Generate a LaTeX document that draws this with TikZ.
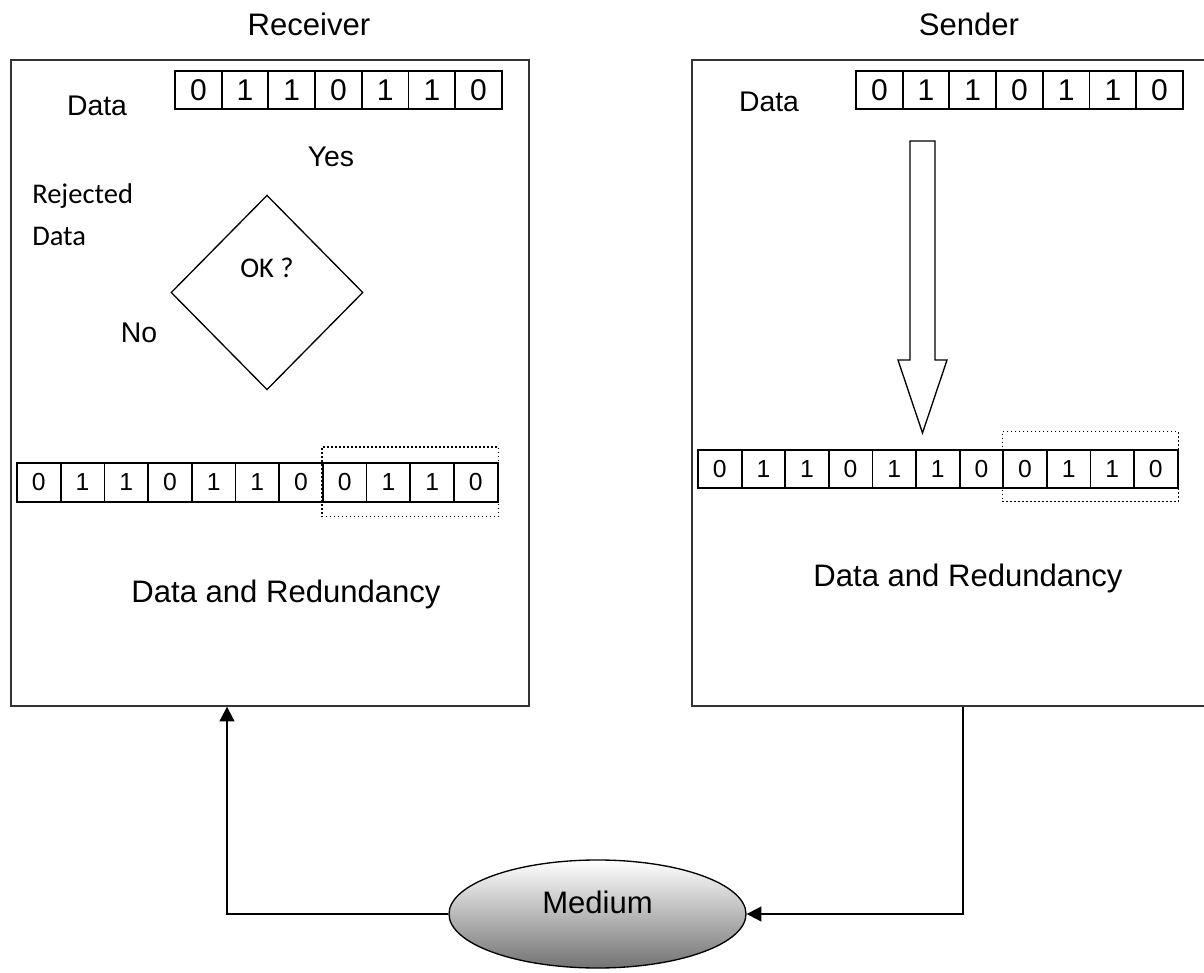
\documentclass[tikz,border=0pt]{standalone}
\usepackage{fontspec}
\setmainfont{Liberation Sans}
\newfontfamily\carlito{Carlito}
\usetikzlibrary{positioning,shapes.geometric,fit,arrows.meta}

\begin{document}
\begin{tikzpicture}[
  x=0.75pt, y=-0.75pt,
  frame/.style={draw=black!80, line width=1pt, minimum height=484.5pt},
  bitcell/.style={draw, line width=1.4pt, inner sep=0pt, minimum width=35pt, minimum height=28.5pt, font=\fontsize{22.5}{24}\selectfont},
  longcell/.style={draw, line width=1.3pt, inner sep=0pt, minimum width=32.75pt, minimum height=29pt, font=\fontsize{18.5}{20}\selectfont},
  redund/.style={draw, dotted, line width=1pt, inner xsep=0pt, inner ysep=11pt},
  big/.style={font=\fontsize{23.3}{26}\selectfont, inner sep=0pt, anchor=base},
  mid/.style={font=\fontsize{21.3}{24}\selectfont, inner sep=0pt, anchor=base},
  cal/.style={font=\carlito\fontsize{21.4}{24}\selectfont, inner sep=0pt, anchor=base},
  decision/.style={diamond, draw, line width=1pt, inner sep=0pt, minimum width=144pt, minimum height=146pt},
  medium/.style={ellipse, draw, line width=1pt, top color=white, bottom color=black!55, minimum width=222.75pt, minimum height=81pt, inner sep=0pt},
  arr/.style={-{Triangle[length=11pt,width=11pt]}, line width=1.4pt},
]
\useasboundingbox (0,0) rectangle (1204,973);

% Frames and titles
\node[frame, minimum width=388.5pt] (receiver) at (270,383) {};
\node[frame, minimum width=392.25pt] (sender) at (953.5,383) {};
\node[big] (rtitle) at (309,36) {Receiver};
\node[big] (stitle) at (969,36) {Sender};

% Receiver side
\node[mid] (rdatalbl) at (97,116) {Data};
\foreach \b [count=\i] in {0,1,1,0,1,1,0}
  \node[bitcell] (rbit\i) at ({175+46.7*(\i-0.5)},90) {\b};
\node[mid] (yes) at (331,167) {Yes};
\node[cal, anchor=base west] (rej1) at (32,204) {Rejected};
\node[cal, anchor=base west] (rej2) at (32,246) {Data};
\node[decision] (ok) at (267,292.5) {};
\node[cal] (oklbl) at (267,278) {OK ?};
\node[mid] (no) at (139,343) {No};
\foreach \b [count=\i] in {0,1,1,0,1,1,0,0,1,1,0}
  \node[longcell] (rlong\i) at ({17+43.7*(\i-0.5)},482.5) {\b};
\node[redund, fit=(rlong8)(rlong11), yshift=0.4pt] (rred) {};
\node[big] (rdr) at (286,602) {Data and Redundancy};

% Sender side
\node[mid] (sdatalbl) at (769,112) {Data};
\foreach \b [count=\i] in {0,1,1,0,1,1,0}
  \node[bitcell] (sbit\i) at ({856+46.7*(\i-0.5)},90) {\b};
\draw[line width=1pt] (910,141) -- (935,141) -- (935,360) -- (947,360) -- (922.5,433)
  -- (898,360) -- (910,360) -- cycle;
\foreach \b [count=\i] in {0,1,1,0,1,1,0,0,1,1,0}
  \node[longcell] (slong\i) at ({698+43.6*(\i-0.5)},469) {\b};
\node[redund, fit=(slong8)(slong11), yshift=1.8pt] (sred) {};
\node[big] (sdr) at (968,586) {Data and Redundancy};

% Medium and links
\node[medium] (medium) at (597.5,914) {};
\node[big] (mediumlbl) at (597.5,913) {Medium};
\coordinate (rturn) at (227,914);
\coordinate (sturn) at (963,914);
\draw[arr] (medium.west) -- (rturn) -- (rturn |- receiver.south);
\draw[arr] (sturn |- sender.south) -- (sturn) -- (medium.east);
\end{tikzpicture}
\end{document}
